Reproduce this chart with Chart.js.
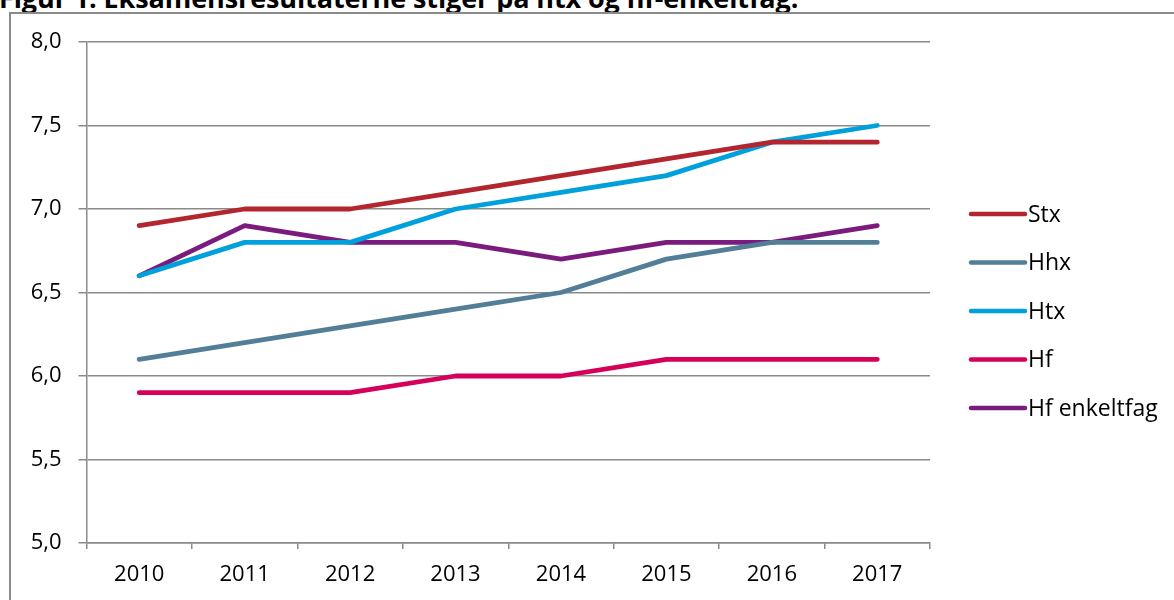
<!DOCTYPE html>
<html>
<head>
<meta charset="utf-8">
<script src="https://cdn.jsdelivr.net/npm/chart.js@4.4.1/dist/chart.umd.min.js"></script>
<style>
  html, body { margin: 0; padding: 0; background: #fff; overflow: hidden; }
  body { width: 1174px; height: 600px; position: relative; }
  #title { position: absolute; left: -1px; top: -16px; font: bold 27px "Open Sans", sans-serif; line-height: 27px; white-space: nowrap; color: #000; margin: 0; letter-spacing: -0.1px; }
  #frame { position: absolute; left: 9px; top: 12px; width: 1300px; height: 800px; border: 2px solid #8a8a8a; box-sizing: border-box; }
  #wrap { position: absolute; left: 0; top: 0; width: 1174px; height: 600px; }
</style>
</head>
<body>
<div id="title">Figur 1. Eksamensresultaterne stiger på htx og hf-enkeltfag.</div>
<div id="frame"></div>
<div id="wrap"><canvas id="c" width="1174" height="600"></canvas></div>
<script>
const years = ["2010", "2011", "2012", "2013", "2014", "2015", "2016", "2017"];
const stx = [6.9, 7.0, 7.0, 7.1, 7.2, 7.3, 7.4, 7.4];
const hhx = [6.1, 6.2, 6.3, 6.4, 6.5, 6.7, 6.8, 6.8];
const htx = [6.6, 6.8, 6.8, 7.0, 7.1, 7.2, 7.4, 7.5];
const hf = [5.9, 5.9, 5.9, 6.0, 6.0, 6.1, 6.1, 6.1];
const hfEnkeltfag = [6.6, 6.9, 6.8, 6.8, 6.7, 6.8, 6.8, 6.9];
const seriesNames = ["Stx", "Hhx", "Htx", "Hf", "Hf enkeltfag"];
const seriesColors = ["#B4262F", "#537E97", "#00A0DC", "#D6005A", "#7A1C7E"];
const yMin = 5.0, yMax = 8.0, yStep = 0.5;

const FONT = '"Open Sans", sans-serif';
const seriesData = [stx, hhx, htx, hf, hfEnkeltfag];

const legendPlugin = {
  id: 'customLegend',
  afterDraw(chart) {
    const ctx = chart.ctx;
    const ca = chart.chartArea;
    const x0 = ca.right + 41, x1 = ca.right + 95;
    const yStart = ca.top + 172, gap = 48.5;
    ctx.save();
    chart.data.datasets.forEach((ds, i) => {
      const y = yStart + i * gap;
      ctx.strokeStyle = ds.borderColor;
      ctx.lineWidth = 4.5;
      ctx.lineCap = 'round';
      ctx.beginPath();
      ctx.moveTo(x0, y);
      ctx.lineTo(x1, y);
      ctx.stroke();
      ctx.fillStyle = '#000';
      ctx.font = '23px ' + FONT;
      ctx.textBaseline = 'middle';
      ctx.textAlign = 'left';
      ctx.fillText(ds.label, x1 + 3, y + 1);
    });
    ctx.restore();
  }
};

new Chart(document.getElementById('c'), {
  type: 'line',
  data: {
    labels: years,
    datasets: seriesData.map((d, i) => ({
      label: seriesNames[i],
      data: d,
      borderColor: seriesColors[i],
      backgroundColor: seriesColors[i],
      borderWidth: 4.8,
      pointRadius: 0,
      pointHoverRadius: 0,
      tension: 0,
      borderCapStyle: 'round',
      borderJoinStyle: 'round',
      fill: false
    }))
  },
  options: {
    responsive: false,
    animation: false,
    events: [],
    layout: { padding: { left: 0, top: 42, right: 244, bottom: 0 } },
    plugins: { legend: { display: false }, tooltip: { enabled: false }, title: { display: false } },
    scales: {
      x: {
        type: 'category',
        offset: true,
        grid: { display: true, drawOnChartArea: false, drawTicks: true, tickLength: 6, offset: true, color: '#8a8a8a', lineWidth: 1.5 },
        border: { display: true, color: '#8a8a8a', width: 1.5 },
        ticks: { color: '#000', font: { family: FONT, size: 22 }, padding: 13, maxRotation: 0, autoSkip: false },
        afterFit(scale) { scale.height = 57; }
      },
      y: {
        min: yMin,
        max: yMax,
        grid: { color: '#8a8a8a', lineWidth: 1.5, tickLength: 8 },
        border: { display: true, color: '#8a8a8a', width: 1.5 },
        ticks: {
          stepSize: yStep,
          color: '#000',
          font: { family: FONT, size: 22 },
          padding: 17,
          callback: v => v.toFixed(1).replace('.', ',')
        },
        afterFit(scale) { scale.width = 86.5; }
      }
    }
  },
  plugins: [legendPlugin]
});
</script>
</body>
</html>
